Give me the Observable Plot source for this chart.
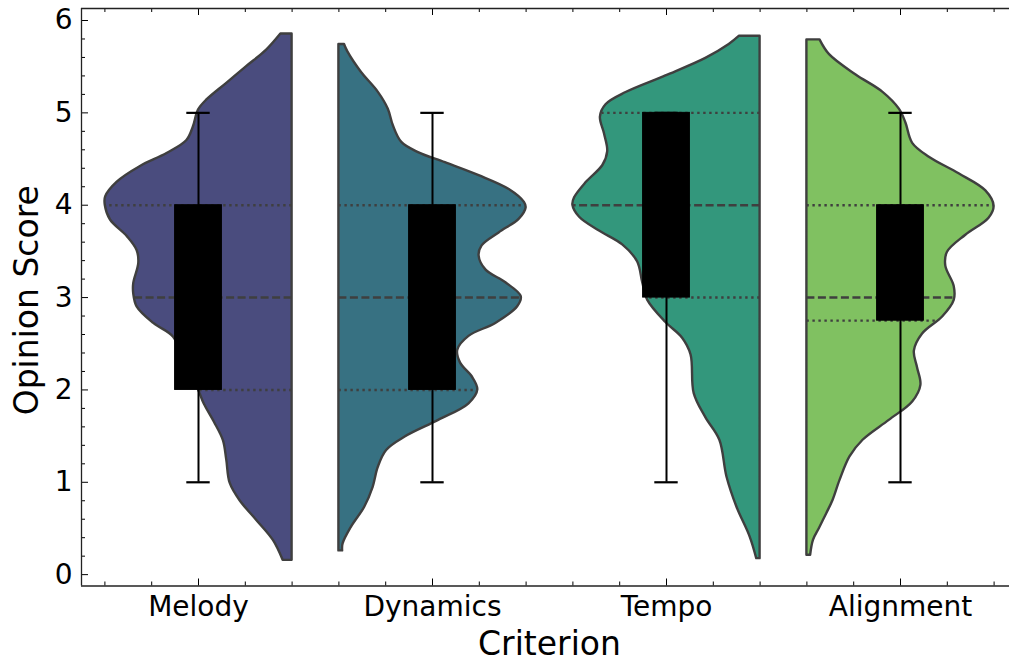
<!DOCTYPE html>
<html><head><meta charset="utf-8">
<script src="https://cdn.jsdelivr.net/npm/d3@7"></script>
<script src="https://cdn.jsdelivr.net/npm/@observablehq/plot@0.6"></script>
<style>html,body{margin:0;padding:0;background:#fff;overflow:hidden}</style>
</head><body><div id="chart"></div>
<script>
// ---- data ----
const categories = ["Melody", "Dynamics", "Tempo", "Alignment"];
const sides = ["left", "right", "left", "right"];
const colors = ["#4a4c7e", "#377182", "#33977c", "#80c161"];

const melodyScore = [0.155,0.37,0.59,0.80,0.99,1.24,1.45,1.65,1.85,2.0,2.3,2.57,2.72,2.90,3.04,3.15,3.37,3.51,3.66,3.84,4.0,4.09,4.25,4.42,4.56,4.70,4.85,5.03,5.14,5.32,5.50,5.68,5.854];
const melodyWidth = [0.048,0.10,0.19,0.278,0.331,0.349,0.367,0.415,0.47,0.50,0.575,0.633,0.739,0.828,0.846,0.846,0.819,0.828,0.88,0.97,0.998,0.996,0.934,0.81,0.668,0.562,0.527,0.50,0.455,0.349,0.243,0.136,0.06];

const dynamicsScore = [0.257,0.33,0.51,0.73,0.946,1.16,1.345,1.49,1.67,1.85,2.0,2.14,2.29,2.43,2.58,2.72,2.90,3.01,3.16,3.30,3.45,3.56,3.70,3.85,3.97,4.03,4.17,4.32,4.46,4.57,4.68,4.86,5.04,5.225,5.44,5.66,5.74];
const dynamicsWidth = [0.02,0.022,0.066,0.138,0.183,0.21,0.255,0.354,0.533,0.695,0.742,0.713,0.65,0.635,0.695,0.838,0.955,0.974,0.892,0.785,0.749,0.765,0.856,0.964,1.0,0.991,0.91,0.749,0.569,0.425,0.336,0.291,0.264,0.21,0.12,0.048,0.03];

const tempoScore = [0.173,0.407,0.732,1.057,1.455,1.70,1.96,2.38,2.56,2.73,2.97,3.16,3.385,3.57,3.72,3.87,4.0,4.08,4.245,4.43,4.58,4.77,4.955,5.09,5.22,5.40,5.59,5.74,5.83];
const tempoWidth = [0.018,0.053,0.124,0.177,0.215,0.29,0.352,0.369,0.414,0.503,0.60,0.627,0.654,0.734,0.858,0.964,1.0,0.991,0.929,0.84,0.814,0.831,0.853,0.822,0.716,0.503,0.29,0.165,0.11];

const alignmentScore = [0.21,0.372,0.50,0.66,0.80,1.02,1.274,1.455,1.67,1.87,2.05,2.24,2.42,2.605,2.79,2.97,3.12,3.34,3.49,3.675,3.86,3.99,4.155,4.34,4.52,4.67,4.89,5.04,5.225,5.41,5.63,5.79];
const alignmentWidth = [0.02,0.035,0.067,0.106,0.139,0.177,0.23,0.30,0.44,0.565,0.609,0.591,0.574,0.618,0.725,0.787,0.787,0.742,0.751,0.849,0.973,1.0,0.956,0.813,0.654,0.565,0.529,0.494,0.405,0.263,0.121,0.07];

const q1 = [2, 2, 3, 2.75];
const medians = [3, 3, 4, 3];
const q3 = [4, 4, 5, 4];
const whiskerLow = [1, 1, 1, 1];
const whiskerHigh = [5, 5, 5, 5];

const yTickLabels = [0, 1, 2, 3, 4, 5, 6];

// ---- layout ----
const W = 1009, H = 662;
const ML = 81, MR = 0, MT = 8, MB = 76.5;
const FW = W - ML - MR, FH = H - MT - MB;
const xDomain = [-0.5, -0.5 + FW / 234];
const yDomain = [-0.123, 6.13];

const scoreArrays = [melodyScore, dynamicsScore, tempoScore, alignmentScore];
const widthArrays = [melodyWidth, dynamicsWidth, tempoWidth, alignmentWidth];

function widthAt(s, w, v) {
  const j = d3.bisectLeft(s, v);
  if (j <= 0) return w[0];
  if (j >= s.length) return w[w.length - 1];
  const t = (v - s[j - 1]) / (s[j] - s[j - 1]);
  return w[j - 1] + t * (w[j] - w[j - 1]);
}

const violinMarks = [];
const dotted = [], dashed = [];
categories.forEach((c, i) => {
  const dir = sides[i] === "left" ? -1 : 1;
  const edge = i - dir * 0.4;
  const rows = scoreArrays[i].map((s, k) => ({score: s, edge, outer: edge + dir * 0.8 * widthArrays[i][k]}));
  violinMarks.push(Plot.areaX(rows, {y: "score", x1: "edge", x2: "outer", fill: colors[i], stroke: "#3f3f3f", strokeWidth: 2.4, strokeLinejoin: "round", curve: "catmull-rom"}));
  const line = v => ({y: v, x1: edge, x2: edge + dir * 0.8 * widthAt(scoreArrays[i], widthArrays[i], v)});
  dotted.push(line(q1[i]), line(q3[i]));
  dashed.push(line(medians[i]));
});

const stats = categories.map((c, i) => ({i, q1: q1[i], q3: q3[i], lo: whiskerLow[i], hi: whiskerHigh[i]}));

const yMinor = d3.range(0, 31).filter(k => k % 5 !== 0).map(k => k / 5);
const xMajor = [0, 1, 2, 3];
const xMinor = d3.range(-2, 18).filter(k => k % 5 !== 0).map(k => k / 5);

const plot = Plot.plot({
  width: W, height: H,
  marginLeft: ML, marginRight: MR, marginTop: MT, marginBottom: MB,
  x: {type: "linear", domain: xDomain},
  y: {type: "linear", domain: yDomain},
  style: {fontFamily: "DejaVu Sans", fontSize: "28px", color: "black", background: "white"},
  marks: [
    ...violinMarks,
    Plot.ruleY(dotted, {y: "y", x1: "x1", x2: "x2", stroke: "#3f3f3f", strokeWidth: 2.4, strokeDasharray: "2.4,3.6"}),
    Plot.ruleY(dashed, {y: "y", x1: "x1", x2: "x2", stroke: "#3f3f3f", strokeWidth: 2.4, strokeDasharray: "8,3.5"}),
    Plot.ruleX(stats, {x: "i", y1: "lo", y2: "hi", stroke: "black", strokeWidth: 2}),
    Plot.ruleY(stats, {y: "lo", x1: d => d.i - 0.05, x2: d => d.i + 0.05, stroke: "black", strokeWidth: 2.2}),
    Plot.ruleY(stats, {y: "hi", x1: d => d.i - 0.05, x2: d => d.i + 0.05, stroke: "black", strokeWidth: 2.2}),
    Plot.rect(stats, {x1: d => d.i - 0.1, x2: d => d.i + 0.1, y1: "q1", y2: "q3", fill: "black", stroke: "black", strokeWidth: 1}),
    // inward ticks
    Plot.ruleY(yTickLabels, {insetRight: FW - 7, stroke: "black", strokeWidth: 1}),
    Plot.ruleY(yMinor, {insetRight: FW - 4, stroke: "black", strokeWidth: 1}),
    Plot.ruleX(xMajor, {insetTop: FH - 7, stroke: "black", strokeWidth: 1}),
    Plot.ruleX(xMinor, {insetTop: FH - 4, stroke: "black", strokeWidth: 1}),
    Plot.ruleX(xMajor, {insetBottom: FH - 7, stroke: "black", strokeWidth: 1}),
    Plot.ruleX(xMinor, {insetBottom: FH - 4, stroke: "black", strokeWidth: 1}),
    // spines
    Plot.ruleX([xDomain[0]], {stroke: "#222", strokeWidth: 1.3}),
    Plot.ruleY([yDomain[0], yDomain[1]], {stroke: "#222", strokeWidth: 1.3}),
    // axes
    Plot.axisY({ticks: yTickLabels, tickSize: 0, tickPadding: 9, fontSize: 28, label: null, tickFormat: d => String(d)}),
    Plot.axisX({ticks: xMajor, tickSize: 0, tickPadding: 10.5, fontSize: 28, label: null, tickFormat: i => categories[i]}),
    Plot.text(["Opinion Score"], {text: d => d, frameAnchor: "left", textAnchor: "middle", dx: -54, dy: 3, rotate: -90, fontSize: 33, fill: "black"}),
    Plot.text(["Criterion"], {text: d => d, x: 1.5, frameAnchor: "bottom", textAnchor: "middle", dy: 69, fontSize: 33, fill: "black"})
  ]
});
document.getElementById("chart").append(plot);
</script>
</body></html>
